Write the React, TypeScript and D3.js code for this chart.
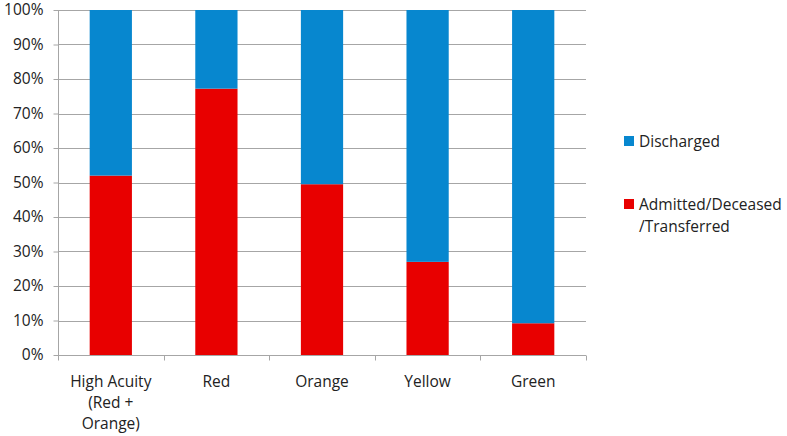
import React, { useEffect, useRef } from "react";
import * as d3 from "d3";

const categories = ["High Acuity (Red + Orange)", "Red", "Orange", "Yellow", "Green"];
const categoryLines = [["High Acuity", "(Red +", "Orange)"], ["Red"], ["Orange"], ["Yellow"], ["Green"]];
const admitted = [52, 77.2, 49.5, 27, 9.2];
const discharged = [48, 22.8, 50.5, 73, 90.8];
const yTicks = [0, 10, 20, 30, 40, 50, 60, 70, 80, 90, 100];

const BLUE = "#0787cf";
const RED = "#e80000";
const FONT = "'Open Sans', 'Noto Sans', sans-serif";
const FS = 15.5;

const App = () => {
  const ref = useRef<SVGSVGElement>(null);

  useEffect(() => {
    const width = 787;
    const height = 436;
    const margin = { top: 10, right: 201, bottom: 81, left: 58 };
    const svg = d3.select(ref.current);
    svg.selectAll("*").remove();
    svg.attr("width", width).attr("height", height).attr("viewBox", [0, 0, width, height]);

    const x = d3
      .scaleBand()
      .domain(categories)
      .range([margin.left, width - margin.right])
      .paddingInner(0.6)
      .paddingOuter(0.3);

    const y = d3
      .scaleLinear()
      .domain([0, 100])
      .range([height - margin.bottom, margin.top]);

    // gridlines
    svg
      .append("g")
      .selectAll("line")
      .data(yTicks)
      .join("line")
      .attr("x1", margin.left)
      .attr("x2", width - margin.right)
      .attr("y1", (d) => Math.round(y(d)) + 0.5)
      .attr("y2", (d) => Math.round(y(d)) + 0.5)
      .attr("stroke", "#a6a6a6")
      .attr("stroke-width", 1);

    const stacked = d3
      .stack<number>()
      .keys(["admitted", "discharged"])
      .value((i, key) => (key === "admitted" ? admitted[i] : discharged[i]))(
      d3.range(categories.length)
    );
    const colors = [RED, BLUE];

    stacked.forEach((layer, li) => {
      svg
        .append("g")
        .attr("fill", colors[li])
        .selectAll("rect")
        .data(layer)
        .join("rect")
        .attr("x", (d) => x(categories[d.data])!)
        .attr("width", x.bandwidth())
        .attr("y", (d) => y(d[1]))
        .attr("height", (d) => y(d[0]) - y(d[1]));
    });

    // y axis
    const yAxis = svg
      .append("g")
      .attr("transform", `translate(${margin.left + 0.5},0)`)
      .call(
        d3
          .axisLeft(y)
          .tickValues(yTicks)
          .tickSize(5)
          .tickPadding(10)
          .tickFormat((d) => `${d}%`)
      );
    yAxis.select(".domain").attr("stroke", "#a6a6a6").attr("d", `M0,${y(0)}V${y(100)}`);
    yAxis.selectAll(".tick line").attr("stroke", "#a6a6a6");
    yAxis
      .selectAll("text")
      .attr("font-family", FONT)
      .attr("font-size", FS)
      .attr("fill", "#222");

    // x axis
    const xBase = Math.round(y(0)) + 0.5;
    const xAxis = svg.append("g");
    xAxis
      .append("line")
      .attr("x1", margin.left)
      .attr("x2", width - margin.right)
      .attr("y1", xBase)
      .attr("y2", xBase)
      .attr("stroke", "#a6a6a6");
    const bounds = d3
      .range(categories.length + 1)
      .map((i) => margin.left + i * ((width - margin.right - margin.left) / categories.length));
    xAxis
      .selectAll("line.tk")
      .data(bounds)
      .join("line")
      .attr("class", "tk")
      .attr("x1", (d) => Math.round(d) + 0.5)
      .attr("x2", (d) => Math.round(d) + 0.5)
      .attr("y1", xBase)
      .attr("y2", xBase + 5)
      .attr("stroke", "#a6a6a6");

    categories.forEach((c, i) => {
      const cx = x(c)! + x.bandwidth() / 2;
      const t = xAxis
        .append("text")
        .attr("x", cx)
        .attr("y", xBase + 31)
        .attr("text-anchor", "middle")
        .attr("font-family", FONT)
        .attr("font-size", FS)
        .attr("fill", "#222");
      categoryLines[i].forEach((line, j) => {
        t.append("tspan").attr("x", cx).attr("dy", j === 0 ? 0 : 21).text(line);
      });
    });

    // legend
    const legend = svg.append("g").attr("font-family", FONT).attr("font-size", FS).attr("fill", "#222");
    const items = [
      { label: ["Discharged"], color: BLUE, y: 141 },
      { label: ["Admitted/Deceased", "/Transferred"], color: RED, y: 204 },
    ];
    items.forEach((it) => {
      legend
        .append("rect")
        .attr("x", 624)
        .attr("y", it.y - 5)
        .attr("width", 10)
        .attr("height", 10)
        .attr("fill", it.color);
      const t = legend.append("text").attr("x", 639).attr("y", it.y + 6);
      it.label.forEach((l, j) => {
        t.append("tspan").attr("x", 639).attr("dy", j === 0 ? 0 : 22).text(l);
      });
    });
  }, []);

  return <svg ref={ref} style={{ position: "absolute", left: 0, top: 0 }}></svg>;
};

export default App;
